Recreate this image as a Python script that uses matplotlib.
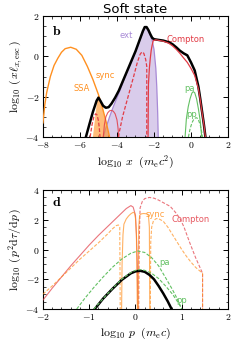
import matplotlib
matplotlib.use("Agg")
import matplotlib.pyplot as plt
from matplotlib.ticker import MultipleLocator, FuncFormatter

plt.rcParams['mathtext.fontset'] = 'cm'
plt.rcParams['font.family'] = ['DejaVu Sans']

# --- panel b: photon spectra, log10 x vs log10(x l_x,esc) ---
sync_x = [-8.0, -7.9, -7.8, -7.6, -7.4, -7.2, -7.0, -6.8, -6.5, -6.2, -5.9, -5.6, -5.3, -5.0, -4.8, -4.6, -4.4]
sync_y = [-3.3, -2.4, -1.8, -1.0, -0.45, -0.1, 0.2, 0.38, 0.45, 0.35, 0.05, -0.5, -1.15, -1.9, -2.5, -3.2, -4.0]

ssa_fill_x = [-5.3, -5.05, -5.0, -4.8, -4.6, -4.4, -4.4]
ssa_fill_y = [-4.0, -2.0, -1.9, -2.5, -3.2, -4.0, -4.0]

tot_x = [-5.68, -5.5, -5.3, -5.1, -5.0, -4.9, -4.75, -4.6, -4.45, -4.3, -4.1, -3.9, -3.6, -3.3, -3.0, -2.8,
         -2.6, -2.5, -2.4, -2.3, -2.2, -2.1, -2.0, -1.8, -1.5, -1.2, -1.0, -0.8, -0.6, -0.4, -0.2, 0.0, 0.2,
         0.4, 0.5, 0.6, 0.7, 0.78]
tot_y = [-4.0, -3.4, -2.75, -2.2, -2.05, -2.2, -2.45, -2.55, -2.52, -2.35, -2.05, -1.7, -1.05, -0.4, 0.25, 0.75,
         1.25, 1.45, 1.45, 1.3, 1.1, 0.92, 0.85, 0.82, 0.78, 0.7, 0.6, 0.45, 0.28, 0.15, 0.05, -0.3, -0.7,
         -1.5, -2.1, -2.75, -3.4, -4.0]

comp_x = [-2.32, -2.31, -2.3, -2.25, -2.2, -2.15, -2.1, -2.04, -1.9, -1.5, -1.2, -1.0, -0.8, -0.6, -0.4, -0.2,
          0.0, 0.2, 0.4, 0.5, 0.6, 0.7, 0.78]
comp_y = [-4.0, -2.5, -1.4, -0.6, -0.1, 0.3, 0.55, 0.78, 0.82, 0.75, 0.65, 0.52, 0.35, 0.15, -0.08, -0.3,
          -0.6, -0.95, -1.6, -2.15, -2.8, -3.4, -4.0]

ext_x = [-4.74, -4.6, -4.4, -4.2, -4.0, -3.8, -3.6, -3.3, -3.0, -2.8, -2.6, -2.5, -2.4, -2.3, -2.2, -2.1,
         -2.0, -1.9, -1.85, -1.8, -1.77]
ext_y = [-4.0, -3.55, -3.0, -2.5, -2.05, -1.6, -1.1, -0.42, 0.25, 0.72, 1.2, 1.45, 1.42, 1.25, 1.05, 0.8,
         0.35, -0.6, -1.5, -2.8, -4.0]

icd_x = [-3.93, -3.7, -3.4, -3.1, -2.9, -2.75, -2.65, -2.55, -2.45, -2.39, -2.39]
icd_y = [-4.0, -3.0, -2.0, -1.0, -0.3, 0.1, 0.22, 0.15, -0.15, -0.5, -4.0]

bump1_x = [-5.45, -5.35, -5.25, -5.15, -5.08, -5.0, -4.95, -4.92]
bump1_y = [-4.0, -3.4, -3.0, -2.85, -2.9, -3.2, -3.6, -4.0]

bump2_x = [-4.74, -4.68, -4.6, -4.5, -4.4, -4.3, -4.2, -4.1, -4.0, -3.95, -3.9]
bump2_y = [-4.0, -3.4, -3.0, -2.8, -2.7, -2.68, -2.72, -2.85, -3.15, -3.5, -4.0]

pa_x = [-0.32, -0.25, -0.15, -0.05, 0.05, 0.12, 0.2, 0.3, 0.4, 0.5, 0.58]
pa_y = [-4.0, -3.1, -2.5, -2.1, -1.82, -1.75, -1.8, -2.1, -2.6, -3.2, -4.0]

pp_x = [-0.14, -0.05, 0.05, 0.15, 0.25, 0.32, 0.4, 0.5, 0.58, 0.62]
pp_y = [-4.0, -3.6, -3.3, -3.12, -3.05, -3.05, -3.15, -3.4, -3.75, -4.0]

# --- panel d: pair spectra, log10 p vs log10(p^2 dtau/dp) ---
dcs_x = [-2.0, -1.8, -1.6, -1.4, -1.2, -1.0, -0.8, -0.6, -0.4, -0.2, -0.1, -0.05, 0.0, 0.02, 0.04, 0.05]
dcs_y = [-3.4, -2.6, -1.85, -1.1, -0.4, 0.3, 0.95, 1.55, 2.15, 2.75, 2.95, 2.85, 2.3, 1.0, -1.0, -4.0]

dcd_x = [0.07, 0.08, 0.1, 0.15, 0.2, 0.3, 0.4, 0.5, 0.6, 0.75, 0.85, 0.96, 1.05, 1.18, 1.3, 1.45, 1.45]
dcd_y = [-4.0, 0.5, 2.8, 3.25, 3.42, 3.5, 3.45, 3.32, 3.15, 2.9, 2.55, 2.1, 1.5, 0.4, -0.55, -1.6, -4.0]

dsd1_x = [-2.0, -1.8, -1.6, -1.4, -1.2, -1.0, -0.8, -0.6, -0.5, -0.42, -0.37, -0.34, -0.33]
dsd1_y = [-3.0, -2.45, -1.85, -1.25, -0.65, -0.1, 0.45, 1.05, 1.38, 1.6, 1.65, 1.5, -4.0]

dss1_x = [-0.3, -0.29, -0.27, -0.25, -0.2, -0.15, -0.1, -0.05, -0.02, 0.0, 0.02, 0.04]
dss1_y = [-4.0, -1.0, 1.0, 1.7, 2.05, 2.25, 2.4, 2.5, 2.45, 2.1, 1.0, -4.0]

dss2_x = [0.06, 0.07, 0.09, 0.13, 0.18, 0.24, 0.28, 0.3, 0.31]
dss2_y = [-4.0, 1.5, 2.3, 2.4, 2.42, 2.4, 2.3, 1.5, -4.0]

dsd2_x = [0.32, 0.33, 0.35, 0.39, 0.45, 0.5, 0.6, 0.7, 0.8, 0.9, 1.0, 1.1, 1.2, 1.3, 1.45, 1.45]
dsd2_y = [-4.0, 0.5, 1.5, 1.95, 2.08, 2.07, 1.9, 1.5, 1.0, 0.5, 0.0, -0.45, -0.85, -1.2, -1.6, -4.0]

dpa_x = [-1.27, -1.1, -0.9, -0.7, -0.5, -0.3, -0.1, 0.05, 0.2, 0.35, 0.5, 0.67, 0.8, 0.9, 1.0]
dpa_y = [-4.0, -3.3, -2.55, -1.85, -1.2, -0.65, -0.25, -0.1, -0.2, -0.55, -1.1, -2.0, -2.7, -3.3, -4.0]

dpp_x = [-0.9, -0.7, -0.5, -0.3, -0.1, 0.0, 0.1, 0.2, 0.35, 0.5, 0.65, 0.8, 0.95, 1.0]
dpp_y = [-4.0, -3.3, -2.63, -2.0, -1.55, -1.4, -1.35, -1.4, -1.6, -1.95, -2.45, -3.0, -3.7, -4.0]

dtot_x = [-0.88, -0.7, -0.5, -0.3, -0.1, 0.0, 0.1, 0.2, 0.3, 0.4, 0.5, 0.6, 0.7, 0.78]
dtot_y = [-4.0, -3.3, -2.65, -2.05, -1.6, -1.47, -1.43, -1.5, -1.7, -2.0, -2.45, -2.95, -3.5, -4.0]

ORANGE = '#ff9020'
RED = '#e23b45'
GREEN = '#62c062'
PURPLE = '#a88ad6'
PURPLE_FILL = '#d9cceb'

fig = plt.figure(figsize=(2.4, 3.44), dpi=100)
ax1 = fig.add_axes([0.179, 0.6017, 0.771, 0.3518])
ax2 = fig.add_axes([0.179, 0.1017, 0.771, 0.3460])

mfmt = FuncFormatter(lambda v, pos: r'$%g$' % v)


def style(ax):
    ax.tick_params(which='both', direction='in', top=True, right=True, labelsize=7, pad=2.5)
    ax.tick_params(which='major', length=3.5, width=0.7)
    ax.tick_params(which='minor', length=1.8, width=0.5)
    ax.xaxis.set_major_formatter(mfmt)
    ax.yaxis.set_major_formatter(mfmt)
    for s in ax.spines.values():
        s.set_linewidth(0.8)


# panel b
ax1.fill(ext_x, ext_y, color=PURPLE_FILL, lw=0, zorder=1)
ax1.plot(ext_x, ext_y, color=PURPLE, lw=0.9, zorder=2)
ax1.fill(ssa_fill_x, ssa_fill_y, color=ORANGE, alpha=0.6, lw=0, zorder=2)
ax1.plot(sync_x, sync_y, color=ORANGE, lw=1.0, zorder=3)
ax1.plot(bump1_x, bump1_y, color=RED, lw=0.9, ls=(0, (3, 1.5)), zorder=3)
ax1.plot(bump2_x, bump2_y, color=RED, lw=0.8, alpha=0.85, zorder=3)
ax1.plot(icd_x, icd_y, color=RED, lw=0.9, ls=(0, (3, 1.5)), zorder=3)
ax1.plot(pa_x, pa_y, color=GREEN, lw=0.8, zorder=3)
ax1.plot(pp_x, pp_y, color=GREEN, lw=0.8, ls=(0, (3, 1.5)), zorder=3)
ax1.plot(tot_x, tot_y, color='black', lw=1.8, zorder=4)
ax1.plot(comp_x, comp_y, color=RED, lw=0.9, zorder=5)

ax1.set_xlim(-8, 2)
ax1.set_ylim(-4, 2)
ax1.xaxis.set_major_locator(MultipleLocator(2))
ax1.xaxis.set_minor_locator(MultipleLocator(0.5))
ax1.yaxis.set_major_locator(MultipleLocator(2))
ax1.yaxis.set_minor_locator(MultipleLocator(0.5))
style(ax1)
ax1.set_xlabel(r'$\log_{10}\,x\ \ (m_{\rm e}c^2)$', fontsize=8.5, labelpad=2.5)
ax1.set_ylabel(r'$\log_{10}\,(\,x\ell_{x,\rm esc}\,)$', fontsize=8.5, labelpad=1)
ax1.set_title('Soft state', fontsize=9.5, pad=2)

ax1.text(-7.25, 1.25, r'$\mathbf{b}$', fontsize=10, ha='center', va='center')
ax1.text(-3.5, 1.05, 'ext', color=PURPLE, fontsize=6, ha='center', va='center')
ax1.text(-0.3, 0.85, 'Compton', color=RED, fontsize=6, ha='center', va='center')
ax1.text(-4.65, -0.93, 'sync', color=ORANGE, fontsize=6, ha='center', va='center')
ax1.text(-5.9, -1.6, 'SSA', color=ORANGE, fontsize=6, ha='center', va='center')
ax1.text(-0.1, -1.58, 'pa', color=GREEN, fontsize=6, ha='center', va='center')
ax1.text(0.05, -2.9, 'pp', color=GREEN, fontsize=6, ha='center', va='center')

# panel d
ax2.plot(dcs_x, dcs_y, color=RED, lw=0.8, alpha=0.7, zorder=3)
ax2.plot(dcd_x, dcd_y, color=RED, lw=0.8, alpha=0.7, ls=(0, (3, 1.5)), zorder=3)
ax2.plot(dsd1_x, dsd1_y, color=ORANGE, lw=0.8, alpha=0.7, ls=(0, (3, 1.5)), zorder=3)
ax2.plot(dss1_x, dss1_y, color=ORANGE, lw=0.8, alpha=0.7, zorder=3)
ax2.plot(dss2_x, dss2_y, color=ORANGE, lw=0.8, alpha=0.7, zorder=3)
ax2.plot(dsd2_x, dsd2_y, color=ORANGE, lw=0.8, alpha=0.7, ls=(0, (3, 1.5)), zorder=3)
ax2.plot(dpa_x, dpa_y, color=GREEN, lw=0.8, ls=(0, (3, 1.5)), zorder=3)
ax2.plot(dtot_x, dtot_y, color='black', lw=1.8, zorder=4)
ax2.plot(dpp_x, dpp_y, color=GREEN, lw=0.8, ls=(0, (3, 1.5)), zorder=5)

ax2.set_xlim(-2, 2)
ax2.set_ylim(-4, 4)
ax2.xaxis.set_major_locator(MultipleLocator(1))
ax2.xaxis.set_minor_locator(MultipleLocator(0.2))
ax2.yaxis.set_major_locator(MultipleLocator(2))
ax2.yaxis.set_minor_locator(MultipleLocator(0.5))
style(ax2)
ax2.set_xlabel(r'$\log_{10}\,p\ \ (m_{\rm e}c)$', fontsize=8.5, labelpad=2.5)
ax2.set_ylabel(r'$\log_{10}\,(\,p^2{\rm d}\tau/{\rm d}p\,)$', fontsize=8.5, labelpad=1)

ax2.text(-1.7, 3.2, r'$\mathbf{d}$', fontsize=10, ha='center', va='center')
ax2.text(1.2, 2.0, 'Compton', color=RED, fontsize=6, ha='center', va='center', alpha=0.85)
ax2.text(0.42, 2.35, 'sync', color=ORANGE, fontsize=6, ha='center', va='center', alpha=0.85)
ax2.text(0.62, -0.85, 'pa', color=GREEN, fontsize=6, ha='center', va='center')
ax2.text(1.0, -3.45, 'pp', color=GREEN, fontsize=6, ha='center', va='center')

fig.savefig('out.png', dpi=100)
